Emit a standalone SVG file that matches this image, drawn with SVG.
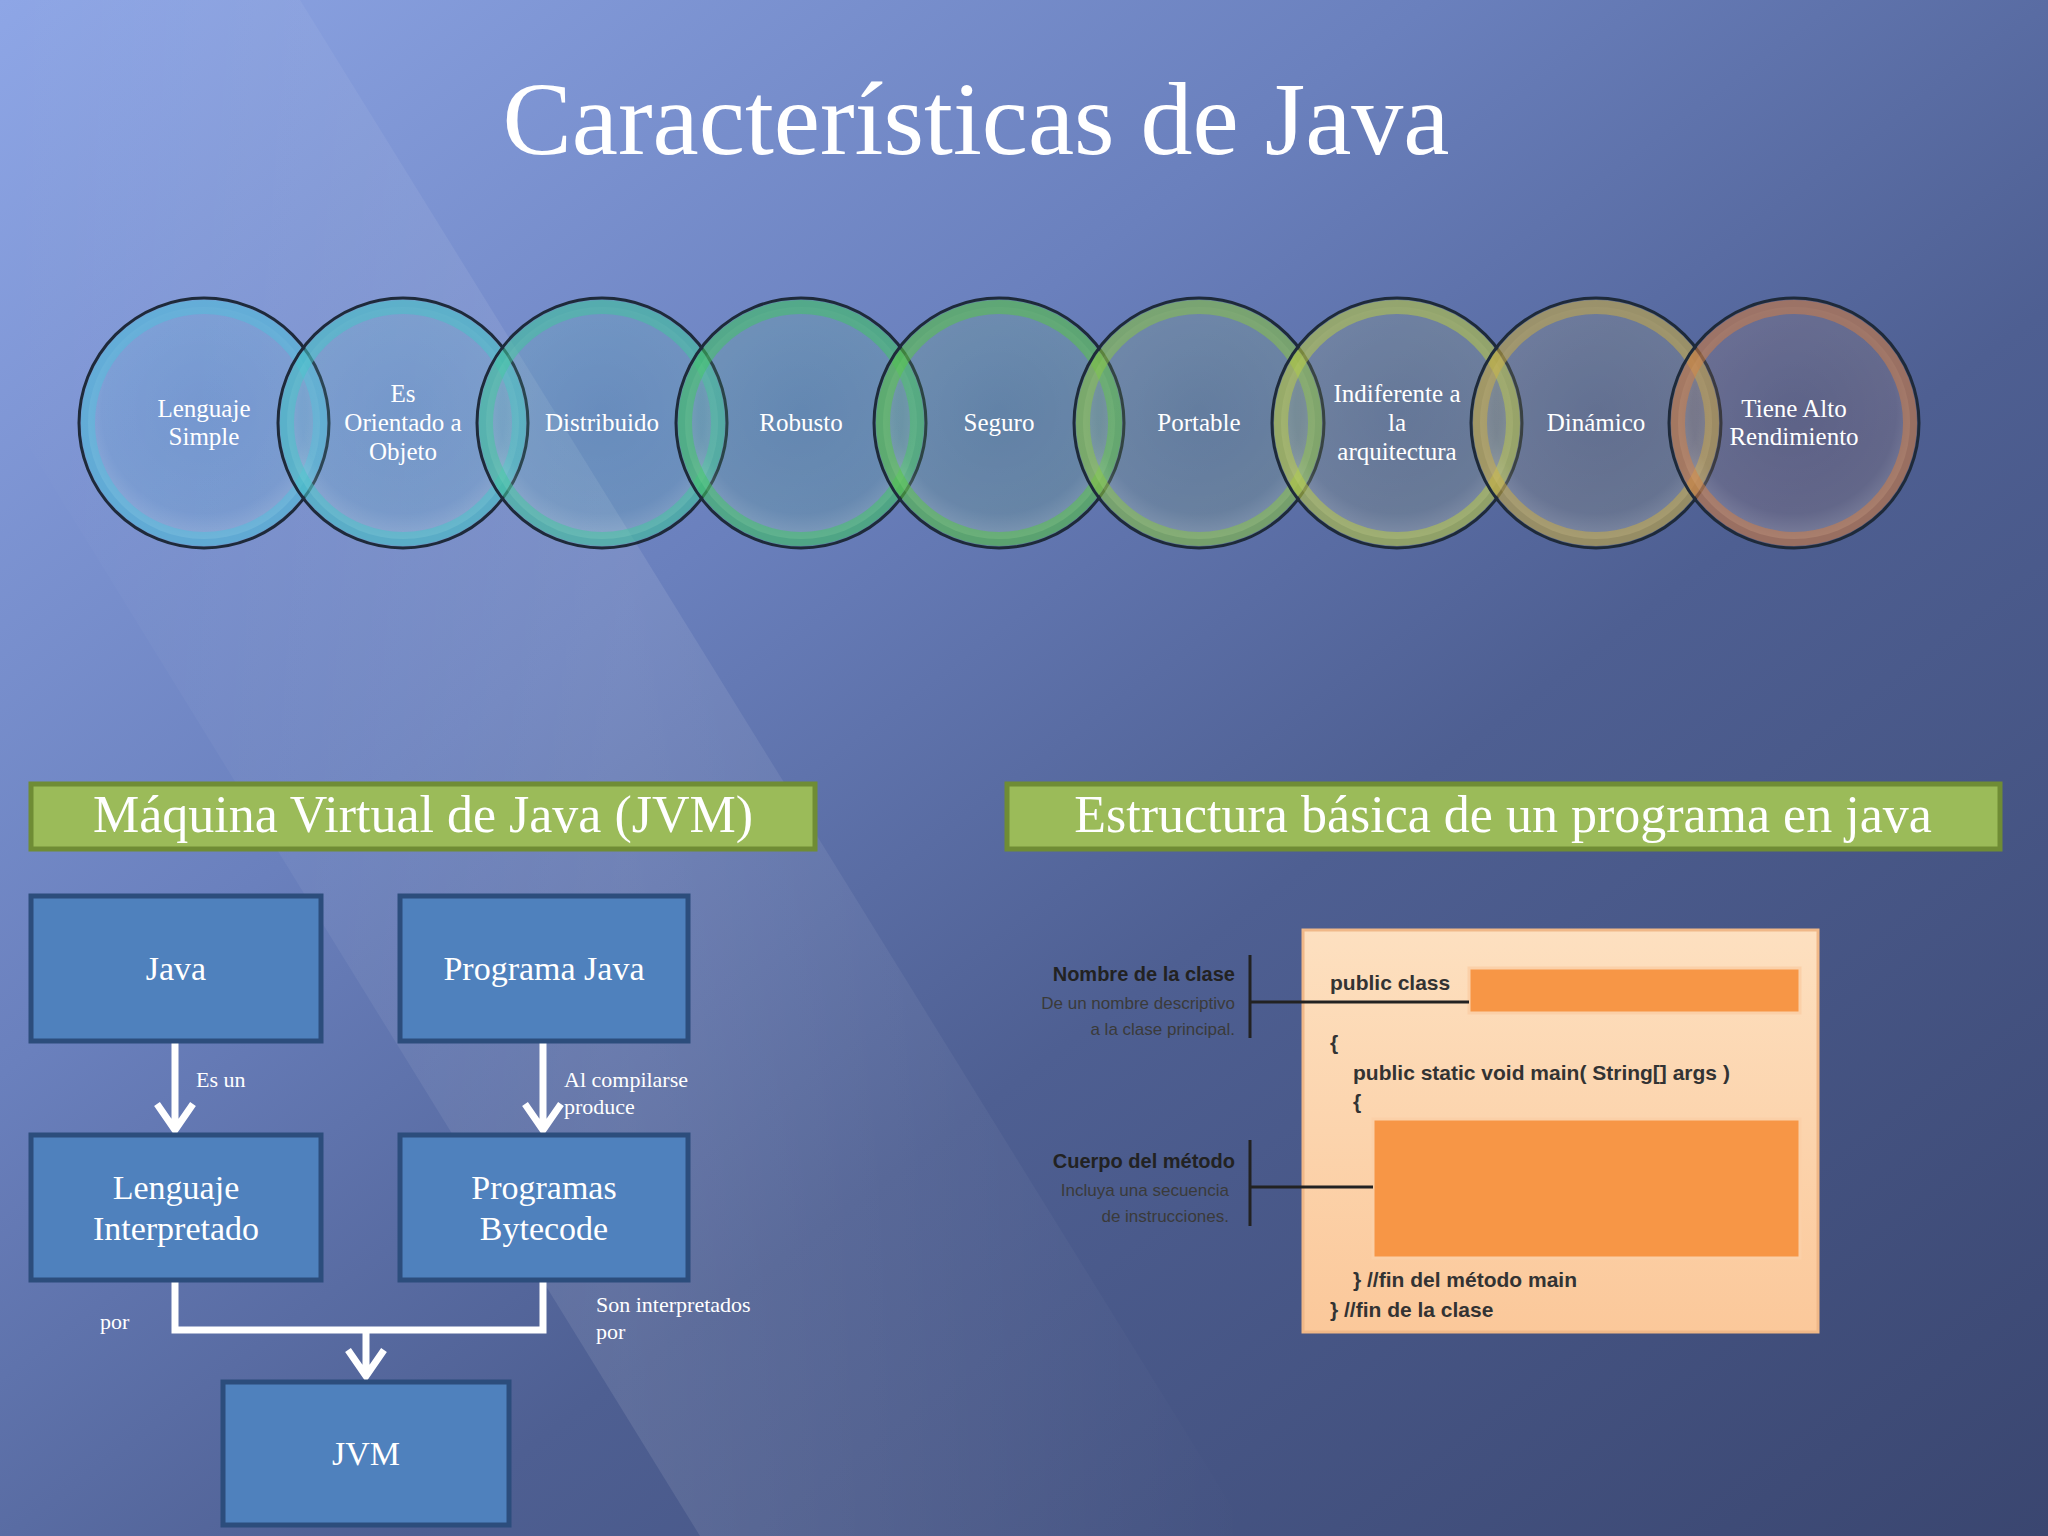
<svg xmlns="http://www.w3.org/2000/svg" width="2048" height="1536" viewBox="0 0 2048 1536">
<defs>
<linearGradient id="bg" x1="0" y1="0" x2="1" y2="1">
<stop offset="0" stop-color="#8ea6e6"/><stop offset="0.35" stop-color="#6a80bd"/><stop offset="0.6" stop-color="#4e5f92"/><stop offset="1" stop-color="#3a4670"/>
</linearGradient>
<linearGradient id="streak" x1="0" y1="0" x2="1" y2="0">
<stop offset="0" stop-color="#fff" stop-opacity="0"/><stop offset="0.5" stop-color="#fff" stop-opacity="0.1"/><stop offset="1" stop-color="#fff" stop-opacity="0"/>
</linearGradient>
<radialGradient id="glass" cx="0.5" cy="0.45" r="0.55">
<stop offset="0" stop-color="#fff" stop-opacity="0"/><stop offset="0.8" stop-color="#fff" stop-opacity="0.05"/><stop offset="1" stop-color="#fff" stop-opacity="0.2"/>
</radialGradient>
<linearGradient id="code" x1="0" y1="0" x2="0" y2="1">
<stop offset="0" stop-color="#fde0c0"/><stop offset="1" stop-color="#fbc89a"/>
</linearGradient>
</defs>
<style>
.t{font-family:"Liberation Serif",serif;fill:#fff}
.ct{font-family:"Liberation Serif",serif;fill:#fff;font-size:25px;text-anchor:middle}
.box{fill:#4f81bd;stroke:#2c4d7c;stroke-width:5}
.bt{font-family:"Liberation Serif",serif;fill:#fff;font-size:34px;text-anchor:middle}
.lbl{font-family:"Liberation Serif",serif;fill:#fff;font-size:22px}
.arr{stroke:#fff;stroke-width:7;fill:none}
.hdr{fill:#9bbb59;stroke:#6f8c35;stroke-width:5}
.code{font-family:"Liberation Sans",sans-serif;font-weight:bold;font-size:21px;fill:#333}
.side{font-family:"Liberation Sans",sans-serif;font-size:17px;fill:#3a3a3a;text-anchor:end}
.sideb{font-family:"Liberation Sans",sans-serif;font-weight:bold;font-size:20px;fill:#222;text-anchor:end}
.ring{stroke-width:14;stroke-opacity:0.5}
.rim{fill:none;stroke:#1e2a3a;stroke-width:3}
.fill{fill-opacity:0.15}
</style>
<rect width="2048" height="1536" fill="url(#bg)"/>
<polygon points="0,0 300,0 1250,1536 700,1536 0,400" fill="url(#streak)"/>
<text class="t" x="976" y="154" font-size="104" text-anchor="middle">Características de Java</text>
<g id="circles">
<g id="c1"><circle cx="204" cy="423" r="125" fill="#3fa6c6" class="fill"/><circle cx="204" cy="423" r="116" fill="url(#glass)" stroke="#4fc0dc" class="ring"/><circle cx="204" cy="423" r="125" class="rim"/><text class="ct" x="204" y="417">Lenguaje</text><text class="ct" x="204" y="445">Simple</text></g>
<g id="c2"><circle cx="403" cy="423" r="125" fill="#3aaeb8" class="fill"/><circle cx="403" cy="423" r="116" fill="url(#glass)" stroke="#44c6c8" class="ring"/><circle cx="403" cy="423" r="125" class="rim"/><text class="ct" x="403" y="402">Es</text><text class="ct" x="403" y="431">Orientado a</text><text class="ct" x="403" y="460">Objeto</text></g>
<g id="c3"><circle cx="602" cy="423" r="125" fill="#38ae96" class="fill"/><circle cx="602" cy="423" r="116" fill="url(#glass)" stroke="#40c89c" class="ring"/><circle cx="602" cy="423" r="125" class="rim"/><text class="ct" x="602" y="431">Distribuido</text></g>
<g id="c4"><circle cx="801" cy="423" r="125" fill="#38a868" class="fill"/><circle cx="801" cy="423" r="116" fill="url(#glass)" stroke="#40c860" class="ring"/><circle cx="801" cy="423" r="125" class="rim"/><text class="ct" x="801" y="431">Robusto</text></g>
<g id="c5"><circle cx="999" cy="423" r="125" fill="#48a848" class="fill"/><circle cx="999" cy="423" r="116" fill="url(#glass)" stroke="#58c840" class="ring"/><circle cx="999" cy="423" r="125" class="rim"/><text class="ct" x="999" y="431">Seguro</text></g>
<g id="c6"><circle cx="1199" cy="423" r="125" fill="#70a840" class="fill"/><circle cx="1199" cy="423" r="116" fill="url(#glass)" stroke="#8cc840" class="ring"/><circle cx="1199" cy="423" r="125" class="rim"/><text class="ct" x="1199" y="431">Portable</text></g>
<g id="c7"><circle cx="1397" cy="423" r="125" fill="#98a840" class="fill"/><circle cx="1397" cy="423" r="116" fill="url(#glass)" stroke="#c0d040" class="ring"/><circle cx="1397" cy="423" r="125" class="rim"/><text class="ct" x="1397" y="402">Indiferente a</text><text class="ct" x="1397" y="431">la</text><text class="ct" x="1397" y="460">arquitectura</text></g>
<g id="c8"><circle cx="1596" cy="423" r="125" fill="#a89840" class="fill"/><circle cx="1596" cy="423" r="116" fill="url(#glass)" stroke="#d0b040" class="ring"/><circle cx="1596" cy="423" r="125" class="rim"/><text class="ct" x="1596" y="431">Dinámico</text></g>
<g id="c9"><circle cx="1794" cy="423" r="125" fill="#a86838" class="fill"/><circle cx="1794" cy="423" r="116" fill="url(#glass)" stroke="#d88040" class="ring"/><circle cx="1794" cy="423" r="125" class="rim"/><text class="ct" x="1794" y="417">Tiene Alto</text><text class="ct" x="1794" y="445">Rendimiento</text></g>
</g>
<g id="hdr1"><rect class="hdr" x="31" y="784" width="784" height="65"/><text class="t" x="423" y="832" font-size="52" text-anchor="middle">Máquina Virtual de Java (JVM)</text></g>
<g id="hdr2"><rect class="hdr" x="1007" y="784" width="993" height="65"/><text class="t" x="1503" y="832" font-size="52" text-anchor="middle">Estructura básica de un programa en java</text></g>
<g id="connectors">
<path class="arr" d="M175,1041 V1126 M157,1104 L175,1130 L193,1104"/>
<path class="arr" d="M543,1041 V1126 M525,1104 L543,1130 L561,1104"/>
<path class="arr" d="M175,1280 V1330 H543 V1280 M366,1330 V1374 M348,1350 L366,1376 L384,1350"/>
<text class="lbl" x="196" y="1087">Es un</text>
<text class="lbl" x="564" y="1087">Al compilarse</text>
<text class="lbl" x="564" y="1114">produce</text>
<text class="lbl" x="100" y="1329">por</text>
<text class="lbl" x="596" y="1312">Son interpretados</text>
<text class="lbl" x="596" y="1339">por</text>
</g>
<g id="java"><rect class="box" x="31" y="896" width="290" height="145"/><text class="bt" x="176" y="980">Java</text></g>
<g id="pjava"><rect class="box" x="400" y="896" width="288" height="145"/><text class="bt" x="544" y="980">Programa Java</text></g>
<g id="li"><rect class="box" x="31" y="1135" width="290" height="145"/><text class="bt" x="176" y="1199">Lenguaje</text><text class="bt" x="176" y="1240">Interpretado</text></g>
<g id="pb"><rect class="box" x="400" y="1135" width="288" height="145"/><text class="bt" x="544" y="1199">Programas</text><text class="bt" x="544" y="1240">Bytecode</text></g>
<g id="jvm"><rect class="box" x="223" y="1382" width="286" height="143"/><text class="bt" x="366" y="1465">JVM</text></g>
<g id="codebox">
<rect x="1303" y="930" width="515" height="402" fill="url(#code)" stroke="#f0b888" stroke-width="3"/>
<rect x="1469" y="968" width="331" height="45" fill="#f79646" stroke="#fbd0a8" stroke-width="3"/>
<rect x="1373" y="1119" width="427" height="139" fill="#f79646" stroke="#fbd0a8" stroke-width="3"/>
<text class="code" x="1330" y="990">public class</text>
<text class="code" x="1330" y="1050">{</text>
<text class="code" x="1353" y="1080">public static void main( String[] args )</text>
<text class="code" x="1353" y="1109">{</text>
<text class="code" x="1353" y="1287">}   //fin del método main</text>
<text class="code" x="1330" y="1317">}   //fin de la clase</text>
<path d="M1250,955 V1038 M1250,1002 H1469 M1250,1140 V1226 M1250,1187 H1373" stroke="#222" stroke-width="3" fill="none"/>
<text class="sideb" x="1235" y="981">Nombre de la clase</text>
<text class="side" x="1235" y="1009">De un nombre descriptivo</text>
<text class="side" x="1235" y="1035">a la clase principal.</text>
<text class="sideb" x="1235" y="1168">Cuerpo del método</text>
<text class="side" x="1229" y="1196">Incluya una secuencia</text>
<text class="side" x="1229" y="1222">de instrucciones.</text>
</g>
</svg>
